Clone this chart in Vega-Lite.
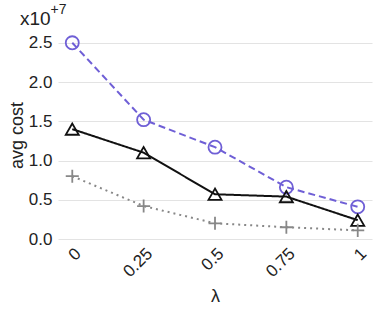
{
  "$schema": "https://vega.github.io/schema/vega-lite/v6.json",
  "width": 314,
  "height": 208,
  "autosize": {"type": "none"},
  "padding": {"left": 58, "top": 31, "right": 2, "bottom": 74},
  "background": "white",
  "config": {
    "view": {"stroke": null},
    "font": "Liberation Sans",
    "axis": {"labelFont": "Liberation Sans", "titleFont": "Liberation Sans", "labelColor": "#222", "titleColor": "#222", "titleFontWeight": "normal"}
  },
  "title": {
    "text": "x10",
    "anchor": "start",
    "frame": "group",
    "dx": -38,
    "dy": 33,
    "offset": 6,
    "fontSize": 19,
    "fontWeight": "normal",
    "font": "Liberation Sans",
    "color": "#222"
  },
  "data": {
    "values": [
      {"lambda": "0", "series": "A", "value": 25000000},
      {"lambda": "0.25", "series": "A", "value": 15200000},
      {"lambda": "0.5", "series": "A", "value": 11700000},
      {"lambda": "0.75", "series": "A", "value": 6600000},
      {"lambda": "1", "series": "A", "value": 4100000},
      {"lambda": "0", "series": "B", "value": 14000000},
      {"lambda": "0.25", "series": "B", "value": 11000000},
      {"lambda": "0.5", "series": "B", "value": 5700000},
      {"lambda": "0.75", "series": "B", "value": 5400000},
      {"lambda": "1", "series": "B", "value": 2400000},
      {"lambda": "0", "series": "C", "value": 8000000},
      {"lambda": "0.25", "series": "C", "value": 4200000},
      {"lambda": "0.5", "series": "C", "value": 2000000},
      {"lambda": "0.75", "series": "C", "value": 1500000},
      {"lambda": "1", "series": "C", "value": 1100000}
    ]
  },
  "encoding": {
    "x": {
      "field": "lambda",
      "type": "ordinal",
      "sort": ["0", "0.25", "0.5", "0.75", "1"],
      "scale": {"type": "point", "padding": 0.2},
      "axis": {"title": "λ", "labelAngle": -45, "labelFontSize": 17, "titleFontSize": 18, "domain": false, "ticks": false, "labelPadding": 6, "titlePadding": 8, "grid": false}
    },
    "color": {
      "field": "series",
      "type": "nominal",
      "scale": {"domain": ["A", "B", "C"], "range": ["#6f5fd6", "#111111", "#888888"]},
      "legend": null
    }
  },
  "resolve": {"scale": {"y": "shared"}, "axis": {"y": "independent"}},
  "layer": [
    {
      "mark": {"type": "line", "strokeWidth": 2},
      "encoding": {
        "y": {
          "field": "value",
          "type": "quantitative",
          "scale": {"domain": [0, 26500000], "nice": false},
          "axis": {"title": "avg cost", "orient": "left", "values": [0, 5000000, 10000000, 15000000, 20000000, 25000000], "labelExpr": "format(datum.value/1e7, '.1f')", "labelFontSize": 17, "titleFontSize": 18, "domain": false, "ticks": false, "grid": true, "gridColor": "#e3e3e3", "labelPadding": 6, "titlePadding": 2}
        },
        "strokeDash": {
          "field": "series",
          "type": "nominal",
          "scale": {"domain": ["A", "B", "C"], "range": [[7, 4], [1, 0], [2, 4]]},
          "legend": null
        }
      }
    },
    {
      "mark": {"type": "point", "filled": false, "strokeWidth": 1.8, "size": 170, "fill": "white", "fillOpacity": 0},
      "encoding": {
        "y": {
          "field": "value",
          "type": "quantitative",
          "axis": {"title": "+7", "orient": "right", "labels": false, "ticks": false, "domain": false, "grid": false, "titleAngle": 0, "titleAlign": "left", "titleBaseline": "alphabetic", "titleX": -322, "titleY": -18, "titleFontSize": 14}
        },
        "shape": {
          "field": "series",
          "type": "nominal",
          "scale": {"domain": ["A", "B", "C"], "range": ["circle", "triangle-up", "M-1,0H1M0,-1V1"]},
          "legend": null
        }
      }
    }
  ]
}
